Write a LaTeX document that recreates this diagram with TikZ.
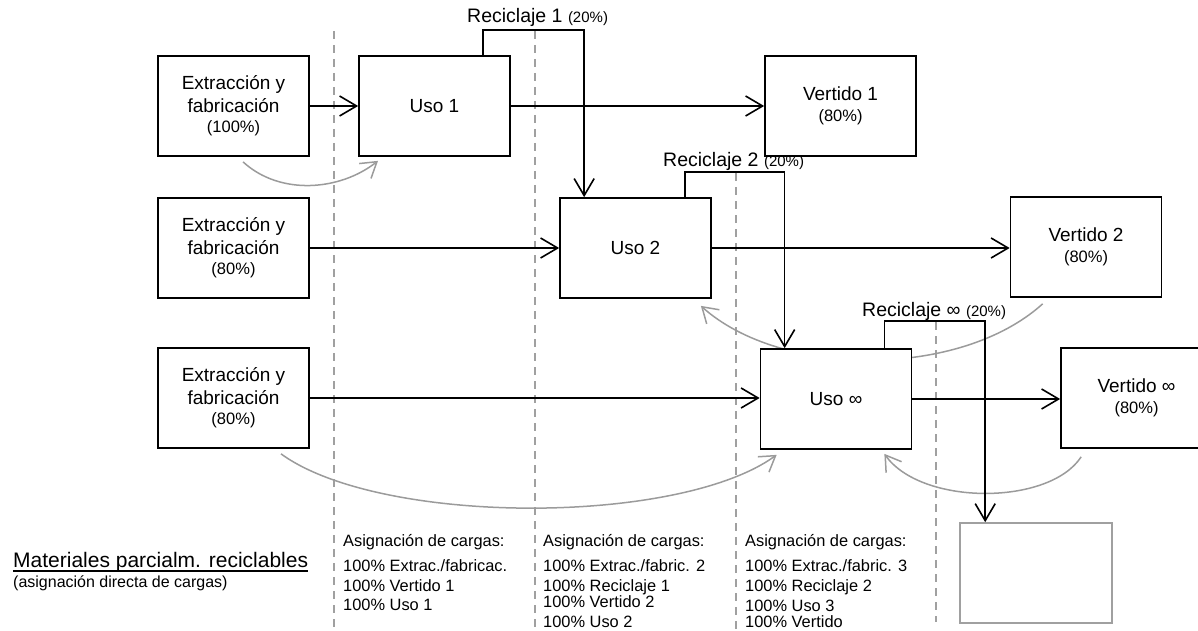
\documentclass[tikz,border=0pt]{standalone}
\usepackage{fontspec}
\setmainfont{Liberation Sans}
\usetikzlibrary{arrows.meta,calc,backgrounds}
\definecolor{lgray}{RGB}{160,160,160}
\definecolor{agray}{RGB}{155,155,155}
\begin{document}
\begin{tikzpicture}[x=1pt,y=-1pt,
  box/.style={draw=black,line width=1.7pt,fill=white,minimum width=151pt,minimum height=100pt,inner sep=0pt,align=center,font=\fontsize{19}{23}\selectfont},
  gbox/.style={draw=lgray,line width=1.6pt,fill=white,minimum width=152pt,minimum height=100pt,inner sep=0pt},
  flow/.style={draw=black,line width=1.6pt,-{Straight Barb[length=17pt,width=20pt]}},
  garc/.style={draw=agray,line width=1.5pt,-{Straight Barb[length=15pt,width=19pt]}},
  gdash/.style={draw=lgray,line width=1.5pt,dash pattern=on 8pt off 6pt},
  rlabel/.style={anchor=base west,inner sep=0pt,font=\fontsize{19.5}{22}\selectfont},
  ctext/.style={anchor=base west,inner sep=0pt,font=\fontsize{16.4}{19}\selectfont}]
\clip (0,0) rectangle (1198,631);
% boxes
\node[box] (E1) at (233.5,106) {Extracción y\\fabricación\\[-3pt]{\fontsize{16.5}{19}\selectfont (100\%)}};
\node[box] (U1) at (434.5,106) {Uso 1};
\node[box] (V1) at (840.5,106) {Vertido 1\\[-2pt]{\fontsize{16.5}{19}\selectfont (80\%)}};
\node[box] (E2) at (233.5,248) {Extracción y\\fabricación\\[-3pt]{\fontsize{16.5}{19}\selectfont (80\%)}};
\node[box] (U2) at (635.5,248) {Uso 2};
\node[box] (V2) at (1086,247) {Vertido 2\\[-2pt]{\fontsize{16.5}{19}\selectfont (80\%)}};
\node[box] (E3) at (233.5,398) {Extracción y\\fabricación\\[-3pt]{\fontsize{16.5}{19}\selectfont (80\%)}};
\node[box] (Ui) at (836,399) {Uso ∞};
\node[box] (Vi) at (1136.5,398) {Vertido ∞\\[-2pt]{\fontsize{16.5}{19}\selectfont (80\%)}};
\node[gbox] (G) at (1036,573) {};
% background: dashed separators and grey arcs
\begin{pgfonlayer}{background}
\draw[gdash] (334,31) -- (334,628);
\draw[gdash] (535,31) -- (535,631);
\draw[gdash] (736,173) -- (736,631);
\draw[gdash] (936,322) -- (936,622);
\draw[garc] ($(E1.south)+(9.5,5)$) .. controls ($(E1.south)+(46.5,39)$) and ($(U1.south)+(-94.5,34)$) .. ($(U1.south)+(-56.5,4)$);
\draw[garc] ($(V2.south west)+(33,6)$) .. controls ($(V2.south west)+(-50,81)$) and ($(U2.south east)+(69,79)$) .. ($(U2.south east)+(-11,7)$);
\draw[garc] ($(E3.south)+(47.5,5)$) .. controls ($(E3.south)+(146.5,77)$) and ($(Ui.south west)+(-81,76)$) .. ($(Ui.south west)+(17,5)$);
\draw[garc] ($(Vi.south west)+(21,8)$) .. controls ($(Vi.south west)+(-11,57)$) and ($(Ui.south east)+(9,56)$) .. ($(Ui.south east)+(-28,4)$);
\end{pgfonlayer}
% flows
\draw[flow] (E1.east) -- (U1.west);
\draw[flow] (U1.east) -- (V1.west);
\draw[flow] (E2.east) -- (U2.west);
\draw[flow] (U2.east) -- (U2.east -| V2.west);
\draw[flow] (E3.east) -- (E3.east -| Ui.west);
\draw[flow] (Ui.east) -- (Ui.east -| Vi.west);
% recycling loops
\draw[flow] ($(U1.north west)+(125,0)$) -- ++(0,-25) -| ($(U2.north west)+(25,0)$);
\draw[flow] ($(U2.north west)+(126,0)$) -- ++(0,-25) -| ($(Ui.north west)+(25,0)$);
\draw[flow] ($(Ui.north west)+(125,0)$) -- ++(0,-27) -| ($(G.north west)+(26,0)$);
% labels
\node[rlabel] (r1) at (467,23) {Reciclaje 1 {\fontsize{15}{17}\selectfont (20\%)}};
\node[rlabel] (r2) at (663,167) {Reciclaje 2 {\fontsize{15}{17}\selectfont (20\%)}};
\node[rlabel] (r3) at (862,316) {Reciclaje ∞ {\fontsize{15}{17}\selectfont (20\%)}};
\node[anchor=base west,inner sep=0pt,font=\fontsize{21}{24}\selectfont] (mat) at (13,567) {Materiales parcialm. reciclables};
\draw[line width=1.4pt] ($(mat.base west)+(0,4)$) -- ($(mat.base east)+(0,4)$);
\node[anchor=base west,inner sep=0pt,font=\fontsize{16}{19}\selectfont] (mat2) at (13,587) {(asignación directa de cargas)};
% columns
\node[ctext] (a1) at (343,546) {Asignación de cargas:};
\node[ctext] (a2) at (343,571) {100\% Extrac./fabricac.};
\node[ctext] (a3) at (343,591) {100\% Vertido 1};
\node[ctext] (a4) at (343,610) {100\% Uso 1};
\node[ctext] (b1) at (543,546) {Asignación de cargas:};
\node[ctext] (b2) at (543,571) {100\% Extrac./fabric. 2};
\node[ctext] (b3) at (543,591) {100\% Reciclaje 1};
\node[ctext] (b4) at (543,607) {100\% Vertido 2};
\node[ctext] (b5) at (543,627) {100\% Uso 2};
\node[ctext] (c1) at (745,546) {Asignación de cargas:};
\node[ctext] (c2) at (745,571) {100\% Extrac./fabric. 3};
\node[ctext] (c3) at (745,591) {100\% Reciclaje 2};
\node[ctext] (c4) at (745,611) {100\% Uso 3};
\node[ctext] (c5) at (745,627) {100\% Vertido};
\end{tikzpicture}
\end{document}
